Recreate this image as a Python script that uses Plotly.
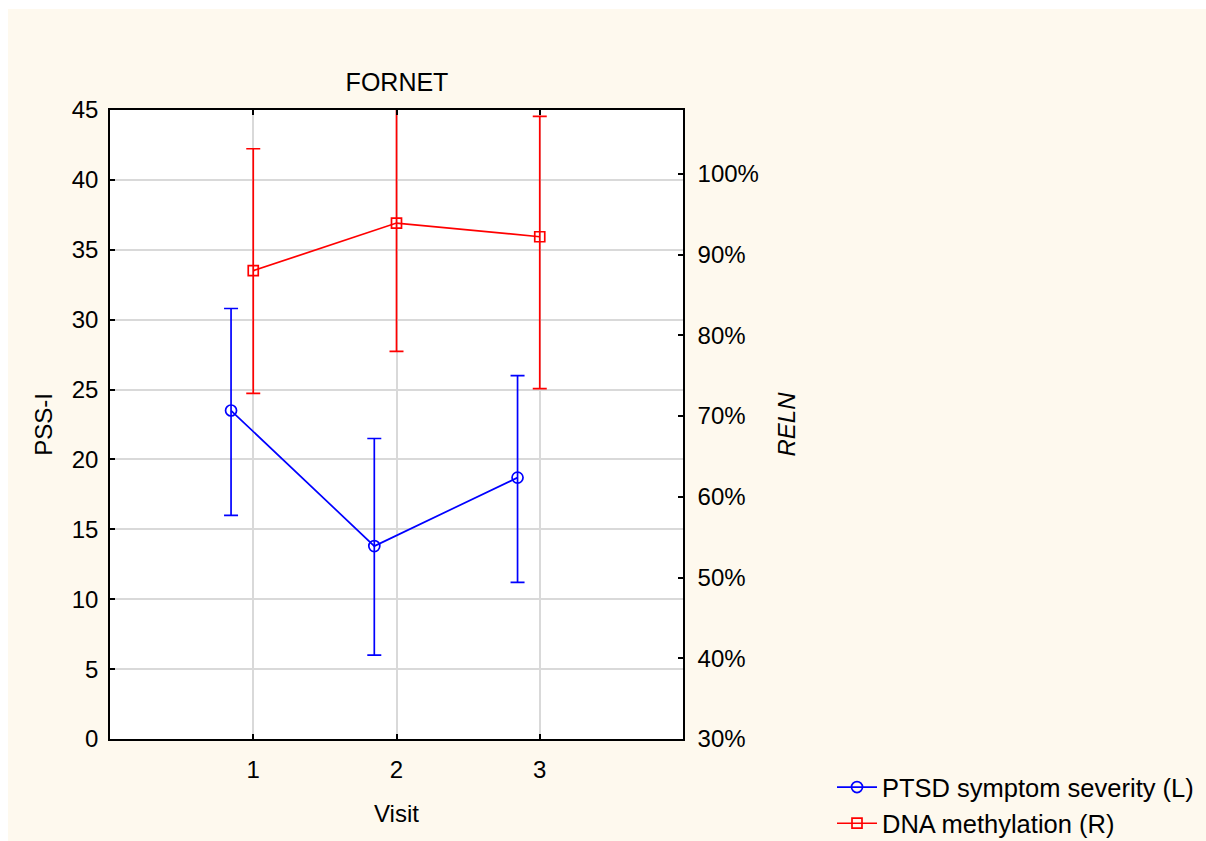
import plotly.graph_objects as go

visits = [1, 2, 3]
visit_ticks = ["1", "2", "3"]

ptsd_mean = [23.5, 13.8, 18.7]
ptsd_upper = [30.8, 21.5, 26.0]
ptsd_lower = [16.0, 6.0, 11.2]

meth_mean = [88.0, 93.9, 92.2]
meth_upper = [103.1, 110.0, 107.1]
meth_lower = [72.8, 78.0, 73.4]

left_ticks = [0, 5, 10, 15, 20, 25, 30, 35, 40, 45]
right_ticks = [30, 40, 50, 60, 70, 80, 90, 100]
right_labels = [f"{v}%" for v in right_ticks]

FONT = "Liberation Sans, Arial, sans-serif"
FS = 24
CREAM = "#FEF9EE"
BLUE = "#0000FF"
RED = "#FF0000"

offset = 0.155
x_blue = [v - offset for v in visits]

fig = go.Figure()
fig.add_trace(go.Scatter(
    x=x_blue, y=ptsd_mean, mode="lines+markers", name="PTSD symptom severity (L)",
    line=dict(color=BLUE, width=1.7),
    marker=dict(symbol="circle-open", size=11, color=BLUE, line=dict(width=1.7)),
    error_y=dict(type="data", symmetric=False,
                 array=[u - m for u, m in zip(ptsd_upper, ptsd_mean)],
                 arrayminus=[m - l for m, l in zip(ptsd_mean, ptsd_lower)],
                 color=BLUE, thickness=1.7, width=7),
))
fig.add_trace(go.Scatter(
    x=visits, y=meth_mean, mode="lines+markers", name="DNA methylation (R)", yaxis="y2",
    line=dict(color=RED, width=1.7),
    marker=dict(symbol="square-open", size=10, color=RED, line=dict(width=1.7)),
    error_y=dict(type="data", symmetric=False,
                 array=[u - m for u, m in zip(meth_upper, meth_mean)],
                 arrayminus=[m - l for m, l in zip(meth_mean, meth_lower)],
                 color=RED, thickness=1.7, width=7),
))

L, R, T, B = 110, 683, 110, 739
W, H = 1206, 841
pw, ph = R - L, B - T

tickfont = dict(family=FONT, size=FS, color="black")
titlefont = dict(family=FONT, size=FS, color="black")

fig.update_layout(
    width=W, height=H,
    margin=dict(l=L, r=W - R, t=T, b=H - B, pad=0, autoexpand=False),
    paper_bgcolor=CREAM, plot_bgcolor="white",
    font=dict(family=FONT, size=FS, color="black"),
    showlegend=True,
    legend=dict(x=(832 - L) / pw, y=(B - 764) / ph, xanchor="left", yanchor="top",
                bgcolor="rgba(0,0,0,0)", borderwidth=0,
                font=dict(family=FONT, size=25.5, color="black"),
                tracegroupgap=0, itemwidth=40),
    title=dict(text="FORNET", x=397 / W, xanchor="center", y=1 - 82 / H, yanchor="middle",
               font=dict(family=FONT, size=25, color="black")),
    xaxis=dict(range=[0, 4], tickvals=visits, ticktext=visit_ticks, tickfont=tickfont,
               showgrid=True, gridcolor="#D9D9D9", gridwidth=1.5,
               showline=True, linecolor="black", linewidth=1.5, mirror="ticks",
               ticks="inside", ticklen=5, tickwidth=1.5, tickcolor="black",
               ticklabelstandoff=8, automargin=False,
               zeroline=False, title=dict(text="Visit", standoff=24, font=titlefont)),
    yaxis=dict(range=[0, 45], tickvals=left_ticks, tickfont=tickfont,
               showgrid=True, gridcolor="#D9D9D9", gridwidth=1.5,
               showline=True, linecolor="black", linewidth=1.5, mirror=True,
               ticks="inside", ticklen=5, tickwidth=1.5, tickcolor="black",
               ticklabelstandoff=5, automargin=False,
               zeroline=False, title=dict(text="PSS-I", standoff=12, font=titlefont)),
    yaxis2=dict(range=[30, 107.9], tickvals=right_ticks, ticktext=right_labels,
                tickfont=tickfont,
                overlaying="y", side="right", showgrid=False,
                showline=True, linecolor="black", linewidth=1.5,
                ticks="inside", ticklen=5, tickwidth=1.5, tickcolor="black",
                ticklabelstandoff=8, automargin=False,
                zeroline=False,
                title=dict(text="<i>RELN</i>", standoff=20, font=titlefont)),
)

# white margin strips at top and left edge of the page
fig.add_shape(type="rect", xref="paper", yref="paper",
              x0=(0 - L) / pw, x1=(8 - L) / pw, y0=(B - H) / ph, y1=(B - 0) / ph,
              fillcolor="white", line=dict(width=0), layer="below")
fig.add_shape(type="rect", xref="paper", yref="paper",
              x0=(0 - L) / pw, x1=(W - L) / pw, y0=(B - 9) / ph, y1=(B - 0) / ph,
              fillcolor="white", line=dict(width=0), layer="below")

fig.write_html("out.html")
